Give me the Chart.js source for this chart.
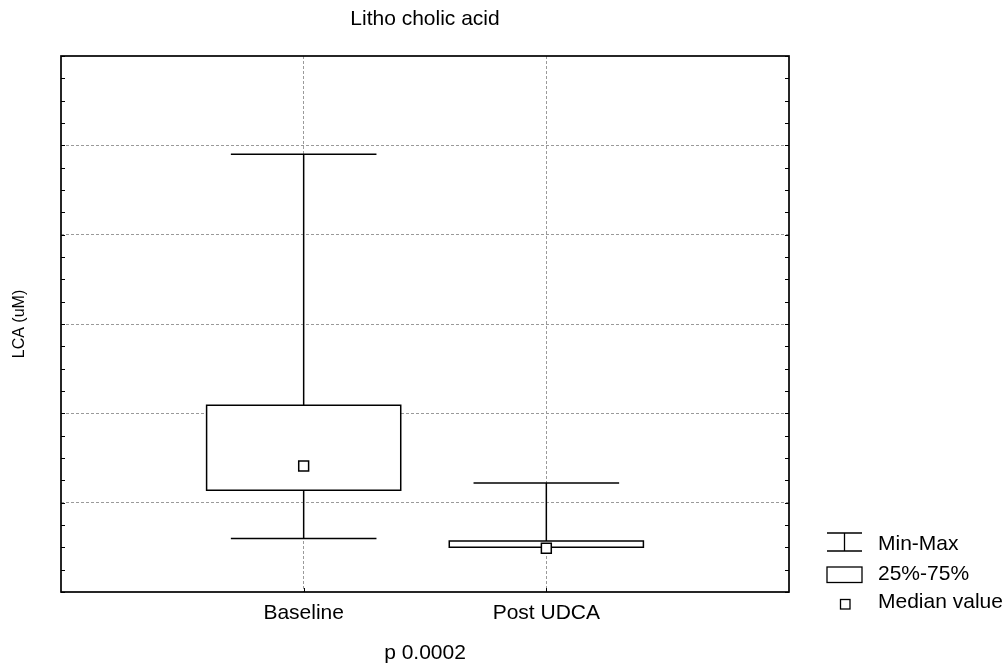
<!DOCTYPE html>
<html>
<head>
<meta charset="utf-8">
<title>Litho cholic acid</title>
<script src="https://cdn.jsdelivr.net/npm/chart.js@4/dist/chart.umd.min.js"></script>
<style>
  html, body { margin: 0; padding: 0; background: #fff; }
  #chart-area { display: block; }
</style>
</head>
<body>
<canvas id="chart-area" width="1003" height="664"></canvas>
<script>
// values (y axis has no numbers, scale 0..6 grid units)
var categories = ['Baseline', 'Post UDCA'];
var minValues = [0.60, 0.50];
var q1Values = [1.14, 0.50];
var medianValues = [1.41, 0.49];
var q3Values = [2.09, 0.57];
var maxValues = [4.90, 1.22];
var yRange = [0, 6];
var yMinorStep = 0.25;
var legendLabels = ['Min-Max', '25%-75%', 'Median value'];

var FONT = "'Liberation Sans', Arial, sans-serif";
var BOX_HALF = 0.4;
var CAP_HALF = 0.3;
var GRID_COLOR = '#9a9a9a';

var positions = categories.map(function(c, i) { return i + 1; });

var lineStyle = function(ds) {
  ds.showLine = true;
  ds.borderColor = '#000';
  ds.borderWidth = 1.5;
  ds.pointRadius = 0;
  ds.tension = 0;
  return ds;
};

var datasets = [];

// whiskers (vertical min -> max, box covers the middle)
positions.forEach(function(p, i) {
  datasets.push(lineStyle({
    data: [{x: p, y: minValues[i]}, {x: p, y: maxValues[i]}],
    order: 3
  }));
  [minValues[i], maxValues[i]].forEach(function(v) {
    datasets.push(lineStyle({
      data: [{x: p - CAP_HALF, y: v}, {x: p + CAP_HALF, y: v}],
      order: 3
    }));
  });
});

// 25%-75% boxes
positions.forEach(function(p, i) {
  var l = p - BOX_HALF, r = p + BOX_HALF;
  var ds = lineStyle({
    data: [
      {x: l, y: q1Values[i]}, {x: l, y: q3Values[i]},
      {x: r, y: q3Values[i]}, {x: r, y: q1Values[i]},
      {x: l, y: q1Values[i]}
    ],
    fill: 'shape',
    backgroundColor: '#fff',
    order: 2
  });
  ds.borderCapStyle = 'square';
  ds.borderJoinStyle = 'miter';
  datasets.push(ds);
});

// medians
datasets.push({
  data: positions.map(function(p, i) { return {x: p, y: medianValues[i]}; }),
  showLine: false,
  pointStyle: 'rect',
  pointRadius: 7,
  pointBackgroundColor: '#fff',
  pointBorderColor: '#000',
  pointBorderWidth: 1.5,
  order: 1
});

var frameAndLegend = {
  id: 'frameAndLegend',
  afterDraw: function(chart) {
    var ctx = chart.ctx;
    var a = chart.chartArea;
    var ys = chart.scales.y, xs = chart.scales.x;
    ctx.save();
    ctx.strokeStyle = '#000';
    ctx.lineWidth = 1;
    ctx.beginPath();
    for (var v = yRange[0]; v <= yRange[1] + 1e-9; v += yMinorStep) {
      var py = Math.round(ys.getPixelForValue(v)) + 0.5;
      ctx.moveTo(a.left, py); ctx.lineTo(a.left + 4, py);
      ctx.moveTo(a.right, py); ctx.lineTo(a.right - 4, py);
    }
    positions.forEach(function(p) {
      var px = Math.round(xs.getPixelForValue(p)) + 0.5;
      ctx.moveTo(px, a.bottom); ctx.lineTo(px, a.bottom - 4);
    });
    ctx.stroke();

    ctx.lineWidth = 1.7;
    ctx.strokeRect(a.left, a.top, a.right - a.left, a.bottom - a.top);

    // legend
    var lx = 827, tx = 878;
    var rows = [544, 574, 602];
    ctx.lineWidth = 1.3;
    ctx.beginPath();
    ctx.moveTo(lx, 533); ctx.lineTo(lx + 35, 533);
    ctx.moveTo(lx, 551); ctx.lineTo(lx + 35, 551);
    ctx.moveTo(lx + 17.5, 533); ctx.lineTo(lx + 17.5, 551);
    ctx.stroke();
    ctx.strokeRect(lx, 567, 35, 15.5);
    ctx.strokeRect(840.5, 599.5, 9.5, 9.5);

    ctx.fillStyle = '#000';
    ctx.font = '21px ' + FONT;
    ctx.textBaseline = 'middle';
    ctx.textAlign = 'left';
    legendLabels.forEach(function(t, i) { ctx.fillText(t, tx, rows[i]); });
    ctx.restore();
  }
};

var config = {
  type: 'scatter',
  data: { datasets: datasets },
  options: {
    responsive: false,
    animation: false,
    layout: { padding: { left: 0, right: 214, top: 0, bottom: 0 } },
    plugins: {
      legend: { display: false },
      tooltip: { enabled: false },
      title: {
        display: true,
        text: 'Litho cholic acid',
        fullSize: false,
        color: '#000',
        font: { family: FONT, size: 21, weight: 'normal', lineHeight: 1.2 },
        padding: { top: 7, bottom: 23.8 }
      }
    },
    scales: {
      x: {
        type: 'linear',
        min: 0,
        max: 3,
        afterBuildTicks: function(s) {
          s.ticks = positions.map(function(p) { return {value: p}; });
        },
        afterFit: function(s) { s.height = 72; },
        ticks: {
          callback: function(v) { return categories[Math.round(v) - 1]; },
          color: '#000',
          font: { family: FONT, size: 21 },
          padding: 9,
          maxRotation: 0,
          autoSkip: false
        },
        grid: { color: GRID_COLOR, lineWidth: 1, drawTicks: false },
        border: { display: false, dash: [3, 2] },
        title: {
          display: true,
          text: 'p 0.0002',
          color: '#000',
          font: { family: FONT, size: 21, lineHeight: 1 },
          padding: { top: 0, bottom: 0 }
        }
      },
      y: {
        min: yRange[0],
        max: yRange[1],
        afterFit: function(s) { s.width = 61; },
        ticks: { stepSize: 1, display: false },
        grid: {
          color: function(c) {
            var v = c.tick && c.tick.value;
            return (v > yRange[0] && v < yRange[1]) ? GRID_COLOR : 'transparent';
          },
          lineWidth: 1,
          drawTicks: false
        },
        border: { display: false, dash: [3, 2] },
        title: {
          display: true,
          text: 'LCA (uM)',
          color: '#000',
          font: { family: FONT, size: 16 },
          padding: { top: 10, bottom: 0 }
        }
      }
    }
  },
  plugins: [frameAndLegend]
};

window.onload = function() {
  var ctx = document.getElementById('chart-area').getContext('2d');
  window.myBox = new Chart(ctx, config);
};
</script>
</body>
</html>
